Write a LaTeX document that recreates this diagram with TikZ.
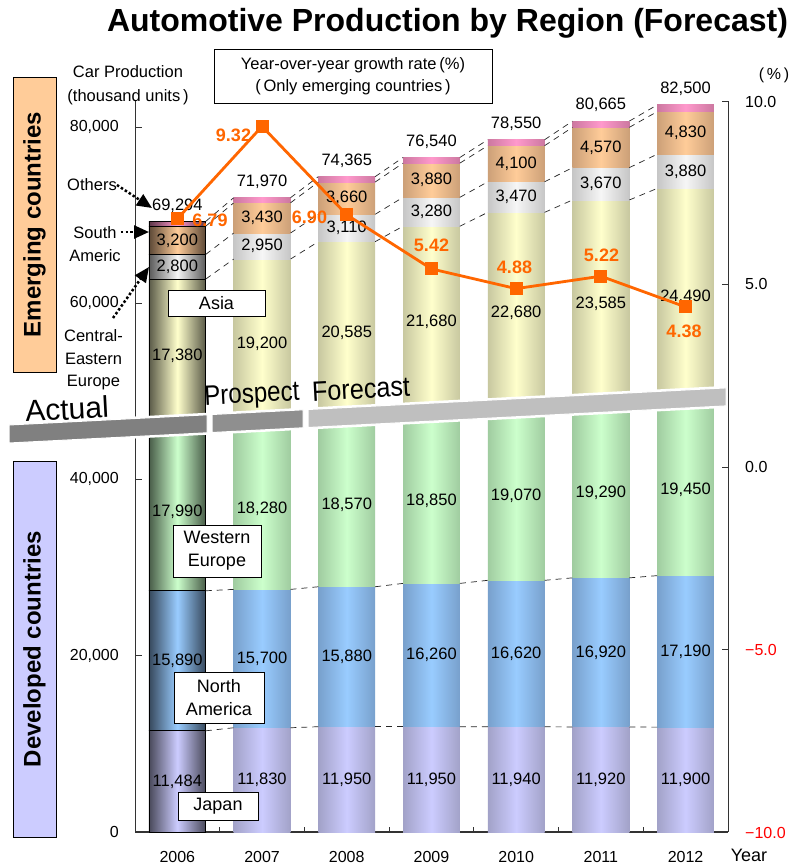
\documentclass[tikz,border=0pt]{standalone}
\usepackage{fontspec}
\setmainfont{Liberation Sans}
\usepackage{graphicx}
\usetikzlibrary{arrows.meta}

\newcommand\pxsize[1]{\fontsize{#1}{#1}\selectfont}

% segment colours: M = light centre, E = shaded edge
\definecolor{jpM}{HTML}{CCCCFF}\definecolor{jpE}{HTML}{A2A2C8}
\definecolor{naM}{HTML}{99CCFF}\definecolor{naE}{HTML}{78A0CC}
\definecolor{weM}{HTML}{CCFFCC}\definecolor{weE}{HTML}{A0CCA0}
\definecolor{asM}{HTML}{FFFFCC}\definecolor{asE}{HTML}{C8C8A0}
\definecolor{ceM}{HTML}{F6F6F6}\definecolor{ceE}{HTML}{C6C6C6}
\definecolor{saM}{HTML}{FFCC99}\definecolor{saE}{HTML}{CCA078}
\definecolor{otM}{HTML}{FF99CC}\definecolor{otE}{HTML}{CC78A0}
\definecolor{growth}{HTML}{FF6600}
\definecolor{emerg}{HTML}{FFCC99}
\definecolor{devel}{HTML}{CCCCFF}

% one stacked bar: #1 index, #2-#7 segments (thousand units), #8 total, #9 edge mix
\newcommand\yearbar[9]{%
  \def\edgemix{#9}%
  \pgfmathsetmacro\bxc{135+84.7*(#1+0.5)}%
  \pgfmathsetmacro\bxl{\bxc-28.4}%
  \pgfmathsetmacro\bxr{\bxc+28.4}%
  \pgfmathsetmacro\bya{832}%
  \pgfmathsetmacro\byb{\bya-8.8125*#2}%
  \pgfmathsetmacro\byc{\byb-8.8125*#3}%
  \pgfmathsetmacro\byd{\byc-8.8125*#4}%
  \pgfmathsetmacro\bye{\byd-8.8125*#5}%
  \pgfmathsetmacro\byf{\bye-8.8125*#6}%
  \pgfmathsetmacro\byg{\byf-8.8125*#7}%
  \pgfmathsetmacro\byh{\bya-8.8125*#8}%
  \path[seg={jpM}{jpE}] (\bxl,\bya) rectangle (\bxr,\byb);
  \path[seg={naM}{naE}] (\bxl,\byb) rectangle (\bxr,\byc);
  \path[seg={weM}{weE}] (\bxl,\byc) rectangle (\bxr,\byd);
  \path[seg={asM}{asE}] (\bxl,\byd) rectangle (\bxr,\bye);
  \path[seg={ceM}{ceE}] (\bxl,\bye) rectangle (\bxr,\byf);
  \path[seg={saM}{saE}] (\bxl,\byf) rectangle (\bxr,\byg);
  \path[seg={otM}{otE}] (\bxl,\byg) rectangle (\bxr,\byh);
  \coordinate (L#1-1) at (\bxl,\byb); \coordinate (R#1-1) at (\bxr,\byb);
  \coordinate (L#1-2) at (\bxl,\byc); \coordinate (R#1-2) at (\bxr,\byc);
  \coordinate (L#1-4) at (\bxl,\bye); \coordinate (R#1-4) at (\bxr,\bye);
  \coordinate (L#1-5) at (\bxl,\byf); \coordinate (R#1-5) at (\bxr,\byf);
  \coordinate (L#1-6) at (\bxl,\byg); \coordinate (R#1-6) at (\bxr,\byg);
  \coordinate (L#1-7) at (\bxl,\byh); \coordinate (R#1-7) at (\bxr,\byh);
  \coordinate (c#1-1) at (\bxc,{(\bya+\byb)/2});
  \coordinate (c#1-2) at (\bxc,{(\byb+\byc)/2});
  \coordinate (c#1-3) at (\bxc,{(\byc+\byd)/2});
  \coordinate (c#1-4) at (\bxc,{(\byd+\bye)/2});
  \coordinate (c#1-5) at (\bxc,{(\bye+\byf)/2});
  \coordinate (c#1-6) at (\bxc,{(\byf+\byg)/2});
  \coordinate (t#1) at (\bxc,\byh-16);
}

% value labels of one bar: #1 index, #2-#7 segment texts, #8 total text
\newcommand\yearlabels[8]{%
  \node[numlab] (n#1-1) at (c#1-1) {#2};
  \node[numlab] (n#1-2) at (c#1-2) {#3};
  \node[numlab] (n#1-3) at (c#1-3) {#4};
  \node[numlab] (n#1-4) at (c#1-4) {#5};
  \node[numlab] (n#1-5) at (c#1-5) {#6};
  \node[numlab] (n#1-6) at (c#1-6) {#7};
  \node[numlab] (n#1-7) at (t#1) {#8};
}

\begin{document}
\begin{tikzpicture}[x=1pt,y=-1pt,
  segline/.style={},
  seg/.style 2 args={left color=#2!\edgemix!black, right color=#2!\edgemix!black,
    middle color=#1, segline},
  conn/.style={draw=black!85, line width=0.7pt, dash pattern=on 6pt off 5pt},
  numlab/.style={font=\pxsize{16.5}, inner sep=0pt},
  axlab/.style={font=\pxsize{16}, inner sep=0pt},
  regionbox/.style={draw=black, fill=white, line width=0.9pt, font=\pxsize{18},
    align=center, inner sep=0pt},
  sidelab/.style={font=\pxsize{16.5}, align=center, inner sep=0pt},
  pointer/.style={line width=2.5pt, dash pattern=on 2.5pt off 2.2pt,
    -{Triangle[length=15pt,width=13pt]}},
  growthlab/.style={font=\pxsize{18}\bfseries, text=growth, inner sep=0pt},
  marker/.style={fill=growth, minimum size=13pt, inner sep=0pt},
  bandtext/.style={font=\pxsize{28}, rotate=3, inner sep=0pt},
]
\fill[white] (0,0) rectangle (790,867);
\useasboundingbox (0,0) rectangle (790,867);

% title and legend caption
\node[font=\pxsize{32}\bfseries, inner sep=0pt] (title) at (447.5,23) {Automotive Production by Region (Forecast)};
\node[draw=black, line width=0.9pt, minimum width=278pt, minimum height=54pt,
  align=center, font=\pxsize{16.5}, inner sep=0pt] (legend) at (353,76)
  {Year-over-year growth rate\,(\%)\\[6pt](\,Only emerging countries\,)};

% group boxes
\node[draw=black, fill=emerg, line width=0.9pt, rotate=90, minimum width=295pt,
  minimum height=43pt, font=\pxsize{24}\bfseries, inner sep=0pt] (emergbox) at (34.5,224.5) {Emerging countries};
\node[draw=black, fill=devel, line width=0.9pt, rotate=90, minimum width=376pt,
  minimum height=43pt, font=\pxsize{24}\bfseries, inner sep=0pt] (develbox) at (34.5,649) {Developed countries};

% axes
\draw[line width=0.8pt, black!80] (135,101) -- (135,832);
\draw[line width=0.8pt, black!80] (728,101) -- (728,832);
\draw[line width=1.6pt, black!80] (135,832) -- (728,832);
\foreach \v in {0,20,40,60,80}{
  \draw[line width=0.8pt, black!80] (135,{832-8.8125*\v}) -- (142,{832-8.8125*\v});
}
\foreach \p in {10,5,0,-5,-10}{
  \draw[line width=0.8pt, black!80] (722,{467-36.55*\p}) -- (728,{467-36.55*\p});
}
\foreach \k in {1,...,6}{
  \draw[line width=0.8pt, black!80] ({135+84.7*\k},832) -- ({135+84.7*\k},827);
}
\node[axlab, anchor=east] (y80) at (119,127) {80,000};
\node[axlab, anchor=east] (y60) at (119,303) {60,000};
\node[axlab, anchor=east] (y40) at (119,479) {40,000};
\node[axlab, anchor=east] (y20) at (119,656) {20,000};
\node[axlab, anchor=east] (y0) at (119,832) {0};
\node[axlab, anchor=west] (p10) at (745,101.5) {10.0};
\node[axlab, anchor=west] (p5) at (745,284) {5.0};
\node[axlab, anchor=west] (p0) at (745,467) {0.0};
\node[axlab, anchor=west, text=red] (pm5) at (745,650) {−5.0};
\node[axlab, anchor=west, text=red] (pm10) at (745,832.5) {−10.0};
\node[axlab] (pct) at (774,75) {(\,\%\,)};
\node[sidelab, font=\pxsize{16.5}] (unitlab) at (128,85) {Car Production\\[7pt](thousand units\,)};
\foreach \i/\yr in {0/2006,1/2007,2/2008,3/2009,4/2010,5/2011,6/2012}{
  \node[axlab] (yr\i) at ({135+84.7*(\i+0.5)},857) {\yr};
}
\node[font=\pxsize{18}, inner sep=0pt] (yearlab) at (749,855) {Year};

% stacked bars (2006 actual, darker with outlines)
\tikzset{segline/.style={draw=black, line width=0.8pt}}
\yearbar{0}{11.484}{15.890}{17.990}{17.380}{2.800}{3.200}{69.294}{45}
\tikzset{segline/.style={}}
\yearbar{1}{11.830}{15.700}{18.280}{19.200}{2.950}{3.430}{71.970}{100}
\yearbar{2}{11.950}{15.880}{18.570}{20.585}{3.110}{3.660}{74.365}{100}
\yearbar{3}{11.950}{16.260}{18.850}{21.680}{3.280}{3.880}{76.540}{100}
\yearbar{4}{11.940}{16.620}{19.070}{22.680}{3.470}{4.100}{78.550}{100}
\yearbar{5}{11.920}{16.920}{19.290}{23.585}{3.670}{4.570}{80.665}{100}
\yearbar{6}{11.900}{17.190}{19.450}{24.490}{3.880}{4.830}{82.500}{100}

% dashed series connectors between neighbouring bars
\foreach \i in {0,...,5}{
  \pgfmathtruncatemacro\nxt{\i+1}
  \foreach \j in {1,2,4,5,6,7}{
    \draw[conn] (R\i-\j) -- (L\nxt-\j);
  }
}

% broken-scale band
\fill[white] (6,423.2) -- (727,385.8) -- (727,407.8) -- (6,445.2) -- cycle;
\filldraw[fill=black!50, draw=white, line width=1pt] (9,425) -- (207,414.8) -- (207,432.8) -- (9,443) -- cycle;
\filldraw[fill=black!44, draw=white, line width=1pt] (212,414.5) -- (303,409.8) -- (303,427.8) -- (212,432.5) -- cycle;
\filldraw[fill=black!25, draw=white, line width=1pt] (308,409.5) -- (726,387.9) -- (726,405.9) -- (308,427.5) -- cycle;
\node[bandtext, font=\pxsize{30}] (actual) at (67,409) {Actual};
\node[bandtext] (prospect) at (252,396) {\scalebox{0.86}[1]{Prospect}};
\node[bandtext] (forecast) at (361,389) {\scalebox{0.9}[1]{Forecast}};

% value labels
\yearlabels{0}{11,484}{15,890}{17,990}{17,380}{2,800}{3,200}{69,294}
\yearlabels{1}{11,830}{15,700}{18,280}{19,200}{2,950}{3,430}{71,970}
\yearlabels{2}{11,950}{15,880}{18,570}{20,585}{3,110}{3,660}{74,365}
\yearlabels{3}{11,950}{16,260}{18,850}{21,680}{3,280}{3,880}{76,540}
\yearlabels{4}{11,940}{16,620}{19,070}{22,680}{3,470}{4,100}{78,550}
\yearlabels{5}{11,920}{16,920}{19,290}{23,585}{3,670}{4,570}{80,665}
\yearlabels{6}{11,900}{17,190}{19,450}{24,490}{3,880}{4,830}{82,500}

% region name boxes
\node[regionbox, minimum width=97pt, minimum height=26pt] (asia) at (216.5,303) {Asia};
\node[regionbox, minimum width=88pt, minimum height=52pt] (weur) at (217,551) {Western\\[5pt]Europe};
\node[regionbox, minimum width=90pt, minimum height=51pt] (namer) at (219,697.5) {North\\[5pt]America};
\node[regionbox, minimum width=80pt, minimum height=28pt] (japan) at (218,806) {Japan};

% emerging-region pointers
\node[sidelab] (others) at (92,185) {Others};
\node[sidelab] (samer) at (95,244) {South\\[6pt]Americ};
\node[sidelab] (ceeur) at (93.5,360) {Central‐\\[6pt]Eastern\\[6pt]Europe};
\coordinate (othersTip) at (152,208);
\coordinate (samerTip) at (149,232);
\coordinate (ceeurTip) at (149,267);
\coordinate (ceeurTail) at (113,318);
\draw[pointer] (others.east) -- (othersTip);
\draw[pointer] ([yshift=12pt]samer.east) -- (samerTip);
\draw[pointer] (ceeurTail) -- (ceeurTip);

% growth rate line
\foreach \i/\p in {0/6.79,1/9.32,2/6.90,3/5.42,4/4.88,5/5.22,6/4.38}{
  \coordinate (g\i) at ({135+84.7*(\i+0.5)},{467-36.55*\p});
}
\draw[growth, line width=2.8pt, line join=round] (g0) -- (g1) -- (g2) -- (g3) -- (g4) -- (g5) -- (g6);
\foreach \i in {0,...,6}{ \node[marker] (m\i) at (g\i) {}; }
\node[growthlab] (r0) at (210,220) {6.79};
\node[growthlab] (r1) at (233.5,135) {9.32};
\node[growthlab] (r2) at (309.5,217) {6.90};
\node[growthlab] (r3) at (431.5,245) {5.42};
\node[growthlab] (r4) at (514.5,267) {4.88};
\node[growthlab] (r5) at (601.5,255) {5.22};
\node[growthlab] (r6) at (684,331) {4.38};
\end{tikzpicture}
\end{document}
